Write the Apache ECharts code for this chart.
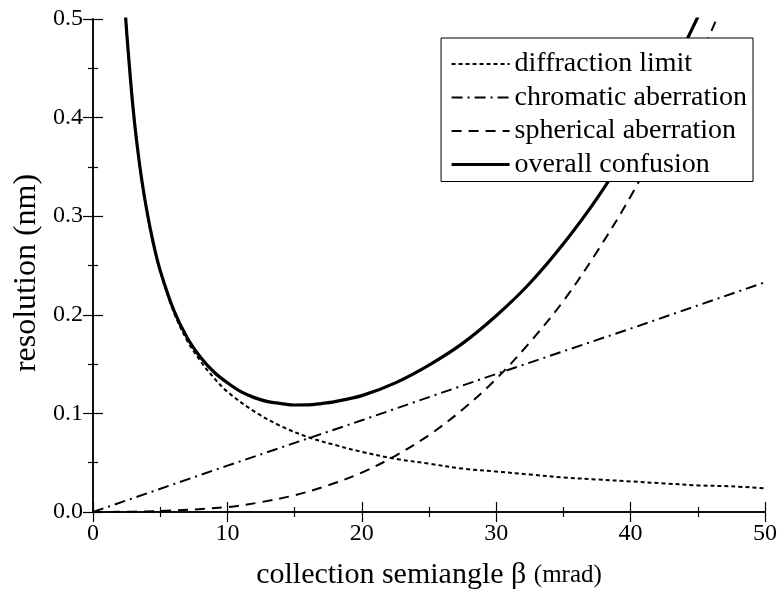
<!DOCTYPE html>
<html>
<head>
<meta charset="utf-8">
<script src="https://cdn.jsdelivr.net/npm/echarts@6/dist/echarts.min.js"></script>
<style>html,body{margin:0;padding:0;background:#fff}#c{width:780px;height:589px}</style>
</head>
<body>
<div id="c"></div>
<script>
// beta (mrad) sample points
const betaDiff = [2.3, 2.5, 3, 3.5, 4, 4.5, 5, 6, 7, 8, 9, 10, 12, 14, 16, 18, 20, 22.5, 25, 27.5, 30, 32.5, 35, 37.5, 40, 42.5, 45, 47.5, 50];
const diffraction = [0.530, 0.488, 0.407, 0.349, 0.305, 0.271, 0.244, 0.203, 0.174, 0.153, 0.136, 0.122, 0.102, 0.087, 0.076, 0.068, 0.061, 0.054, 0.049, 0.044, 0.041, 0.038, 0.035, 0.033, 0.031, 0.029, 0.027, 0.026, 0.024];

const betaChrom = [0, 10, 20, 30, 40, 50];
const chromatic = [0, 0.047, 0.093, 0.140, 0.186, 0.233];

const betaSph = [0, 5, 10, 12.5, 15, 17.5, 20, 22.5, 25, 27.5, 30, 32.5, 35, 37.5, 40, 42.5, 45, 47.5];
const spherical = [0, 0.001, 0.005, 0.010, 0.017, 0.027, 0.040, 0.057, 0.078, 0.104, 0.135, 0.172, 0.214, 0.264, 0.320, 0.384, 0.456, 0.536];

const betaAll = [2.3, 2.5, 3, 3.5, 4, 4.5, 5, 6, 7, 8, 9, 10, 11, 12, 13, 14, 15, 16, 17, 18, 20, 22.5, 25, 27.5, 30, 32.5, 35, 37.5, 40, 42.5, 45, 46];
const overall = [0.530, 0.488, 0.407, 0.349, 0.306, 0.272, 0.245, 0.205, 0.177, 0.157, 0.142, 0.131, 0.122, 0.116, 0.112, 0.110, 0.1085, 0.1086, 0.110, 0.112, 0.118, 0.131, 0.149, 0.171, 0.199, 0.232, 0.272, 0.318, 0.372, 0.433, 0.502, 0.533];

const xTicks = [0, 10, 20, 30, 40, 50];
const yTicks = [0.0, 0.1, 0.2, 0.3, 0.4, 0.5];

const names = ['diffraction limit', 'chromatic aberration', 'spherical aberration', 'overall confusion'];

const zip = (xs, ys) => xs.map((x, i) => [x, ys[i]]);
const FONT = '"Liberation Serif", "Times New Roman", serif';

const axisCommon = {
  type: 'value',
  axisLine: { show: true, lineStyle: { color: '#000', width: 1.5 } },
  axisTick: { show: true, inside: true, length: 10, lineStyle: { color: '#000', width: 1.2 } },
  minorTick: { show: true, splitNumber: 2, length: 5, lineStyle: { color: '#000', width: 1.2 } },
  splitLine: { show: false },
  minorSplitLine: { show: false }
};

const hidden = { color: 'rgba(0,0,0,0)', borderColor: 'rgba(0,0,0,0)', borderWidth: 0 };

const chart = echarts.init(document.getElementById('c'), null, { renderer: 'canvas' });
chart.setOption({
  animation: false,
  backgroundColor: '#fff',
  grid: { left: 93, right: 15, top: 19, bottom: 77, containLabel: false, outerBoundsMode: 'none' },
  legend: {
    orient: 'vertical',
    right: 27,
    top: 38,
    backgroundColor: '#fff',
    borderColor: '#000',
    borderWidth: 1,
    borderRadius: 0,
    padding: [12, 6, 3, 9],
    itemWidth: 58,
    itemHeight: 14,
    itemGap: 5.5,
    itemStyle: hidden,
    textStyle: { fontFamily: FONT, fontSize: 28, color: '#000', lineHeight: 28 },
    data: [
      { name: names[0], lineStyle: { width: 2 }, itemStyle: hidden },
      { name: names[1], lineStyle: { width: 2 }, itemStyle: hidden },
      { name: names[2], lineStyle: { width: 2 }, itemStyle: hidden },
      { name: names[3], lineStyle: { width: 3 }, itemStyle: hidden }
    ]
  },
  xAxis: [
    Object.assign({}, axisCommon, {
      min: xTicks[0], max: xTicks[xTicks.length - 1], interval: 10, position: 'bottom',
      axisLabel: { fontFamily: FONT, fontSize: 24, color: '#000', margin: 10 },
      name: '{a|collection semiangle β }{b|(mrad)}',
      nameLocation: 'middle', nameGap: 48,
      nameTextStyle: { rich: { a: { fontFamily: FONT, fontSize: 30, color: '#000' }, b: { fontFamily: FONT, fontSize: 25, color: '#000' } } }
    }),
    Object.assign({}, axisCommon, {
      min: xTicks[0], max: xTicks[xTicks.length - 1], interval: 10, position: 'top',
      axisLabel: { show: false }
    })
  ],
  yAxis: [
    Object.assign({}, axisCommon, {
      min: yTicks[0], max: yTicks[yTicks.length - 1], interval: 0.1, position: 'left',
      axisLabel: { fontFamily: FONT, fontSize: 24, color: '#000', margin: 10, formatter: v => v.toFixed(1) },
      name: 'resolution (nm)', nameLocation: 'middle', nameGap: 49, nameRotate: 90,
      nameTextStyle: { fontFamily: FONT, fontSize: 32, color: '#000', padding: [0, 15, 0, 0] }
    }),
    Object.assign({}, axisCommon, {
      min: yTicks[0], max: yTicks[yTicks.length - 1], interval: 0.1, position: 'right',
      axisLabel: { show: false }
    })
  ],
  series: [
    { name: names[0], type: 'line', data: zip(betaDiff, diffraction), symbol: 'none', smooth: 0.35, clip: true,
      lineStyle: { color: '#000', width: 2, type: [4, 3] }, itemStyle: { color: '#000' } },
    { name: names[1], type: 'line', data: zip(betaChrom, chromatic), symbol: 'none', clip: true,
      lineStyle: { color: '#000', width: 2, type: [11, 5, 2, 5] }, itemStyle: { color: '#000' } },
    { name: names[2], type: 'line', data: zip(betaSph, spherical), symbol: 'none', smooth: 0.35, clip: true,
      lineStyle: { color: '#000', width: 2, type: [10, 7] }, itemStyle: { color: '#000' } },
    { name: names[3], type: 'line', data: zip(betaAll, overall), symbol: 'none', smooth: 0.35, clip: true,
      lineStyle: { color: '#000', width: 3.2 }, itemStyle: { color: '#000' } }
  ]
});
</script>
</body>
</html>
